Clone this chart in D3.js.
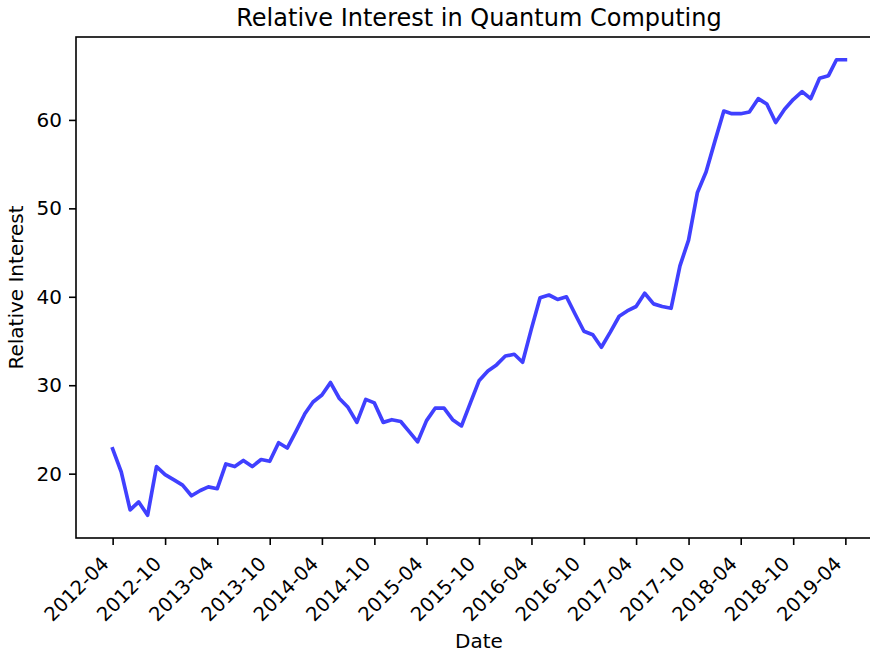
<!DOCTYPE html>
<html>
<head>
<meta charset="utf-8">
<script src="https://cdn.jsdelivr.net/npm/d3@7"></script>
<style>
  html, body { margin: 0; padding: 0; background: #fff; }
  svg { display: block; font-family: "DejaVu Sans", sans-serif; }
</style>
</head>
<body>
<svg id="chart" width="870" height="654"></svg>
<script>
// ---- data ----
const startMonth = "2012-04";
const interest = [
  22.8, 20.2, 15.9, 16.8, 15.3, 20.8, 19.9, 19.3, 18.7, 17.5, 18.1, 18.5,
  18.3, 21.1, 20.8, 21.5, 20.8, 21.6, 21.4, 23.5, 22.9, 24.8, 26.8, 28.1,
  28.9, 30.3, 28.5, 27.5, 25.8, 28.4, 28.0, 25.8, 26.1, 25.9, 24.7, 23.6,
  26.0, 27.4, 27.4, 26.1, 25.4, 28.0, 30.5, 31.6, 32.3, 33.3, 33.5, 32.6,
  36.4, 39.9, 40.2, 39.7, 40.0, 38.0, 36.1, 35.7, 34.3, 36.0, 37.8, 38.4,
  38.9, 40.4, 39.2, 38.9, 38.7, 43.5, 46.4, 51.8, 54.1, 57.6, 61.0, 60.7,
  60.7, 60.9, 62.4, 61.8, 59.7, 61.2, 62.3, 63.2, 62.4, 64.7, 65.0, 66.8,
  66.8
];
const xTickLabels = ["2012-04","2012-10","2013-04","2013-10","2014-04","2014-10",
  "2015-04","2015-10","2016-04","2016-10","2017-04","2017-10","2018-04","2018-10","2019-04"];
const yTicks = [20, 30, 40, 50, 60];
const title = "Relative Interest in Quantum Computing";
const xLabel = "Date";
const yLabel = "Relative Interest";

// ---- build ----
const parseMonth = d3.timeParse("%Y-%m");
const fmtMonth = d3.timeFormat("%Y-%m");
const start = parseMonth(startMonth);
const dates = interest.map((_, i) => d3.timeMonth.offset(start, i));
const data = dates.map((d, i) => ({ date: d, value: interest[i] }));

const svg = d3.select("#chart");
const ax = { left: 76, top: 37, right: 882, bottom: 538 };
const w = ax.right - ax.left, h = ax.bottom - ax.top;
const padX = w / 1.1 * 0.05;

const x = d3.scaleTime()
  .domain(d3.extent(dates))
  .range([ax.left + padX, ax.right - padX]);

const [vmin, vmax] = d3.extent(interest);
const m = (vmax - vmin) * 0.05;
const y = d3.scaleLinear()
  .domain([vmin - m, vmax + m])
  .range([ax.bottom, ax.top]);

// line
const line = d3.line().x(d => x(d.date)).y(d => y(d.value));
svg.append("path")
  .datum(data)
  .attr("d", line)
  .attr("fill", "none")
  .attr("stroke", "rgb(64,64,255)")
  .attr("stroke-width", 3.7)
  .attr("stroke-linejoin", "round")
  .attr("stroke-linecap", "square");

// frame
svg.append("rect")
  .attr("x", ax.left).attr("y", ax.top)
  .attr("width", w).attr("height", h)
  .attr("fill", "none").attr("stroke", "#000").attr("stroke-width", 1.6);

// x axis
const xTickDates = xTickLabels.map(s => parseMonth(s));
const xAxis = d3.axisBottom(x)
  .tickValues(xTickDates)
  .tickFormat(fmtMonth)
  .tickSize(7)
  .tickPadding(7);
const gx = svg.append("g")
  .attr("transform", `translate(0,${ax.bottom})`)
  .call(xAxis);
gx.select(".domain").remove();
gx.selectAll(".tick line").attr("stroke", "#000").attr("stroke-width", 1.6);
gx.selectAll(".tick text")
  .attr("font-size", 19.5)
  .attr("font-family", "DejaVu Sans")
  .attr("fill", "#000")
  .attr("text-anchor", "end")
  .attr("dy", null)
  .attr("y", null)
  .attr("transform", "translate(-3,27) rotate(-45)");

// y axis
const yAxis = d3.axisLeft(y)
  .tickValues(yTicks)
  .tickSize(7)
  .tickPadding(7);
const gy = svg.append("g")
  .attr("transform", `translate(${ax.left},0)`)
  .call(yAxis);
gy.select(".domain").remove();
gy.selectAll(".tick line").attr("stroke", "#000").attr("stroke-width", 1.6);
gy.selectAll(".tick text")
  .attr("font-size", 20)
  .attr("font-family", "DejaVu Sans")
  .attr("fill", "#000");

// labels
svg.append("text")
  .attr("x", (ax.left + ax.right) / 2).attr("y", 26)
  .attr("text-anchor", "middle")
  .attr("font-size", 24)
  .attr("fill", "#000")
  .text(title);

svg.append("text")
  .attr("x", (ax.left + ax.right) / 2).attr("y", 648)
  .attr("text-anchor", "middle")
  .attr("font-size", 20)
  .attr("fill", "#000")
  .text(xLabel);

svg.append("text")
  .attr("transform", `translate(23,${(ax.top + ax.bottom) / 2}) rotate(-90)`)
  .attr("text-anchor", "middle")
  .attr("font-size", 20)
  .attr("fill", "#000")
  .text(yLabel);
</script>
</body>
</html>
